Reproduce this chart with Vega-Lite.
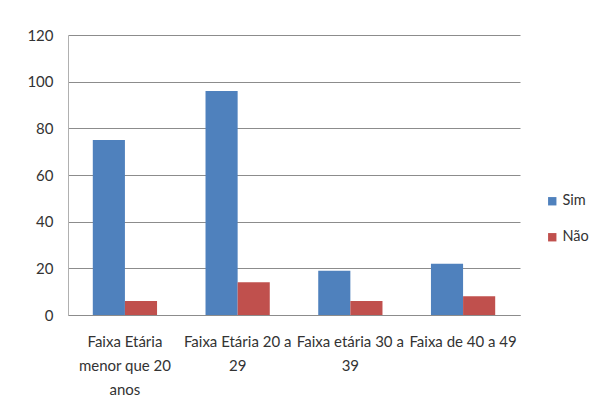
{
  "$schema": "https://vega.github.io/schema/vega-lite/v6.json",
  "width": 452,
  "height": 280,
  "autosize": {"type": "none"},
  "padding": {"left": 68, "top": 35, "right": 71, "bottom": 98},
  "background": "#ffffff",
  "data": {
    "values": [
      {"faixa": "Faixa Etária|menor que 20|anos", "resposta": "Sim", "valor": 75},
      {"faixa": "Faixa Etária|menor que 20|anos", "resposta": "Não", "valor": 6},
      {"faixa": "Faixa Etária 20 a|29", "resposta": "Sim", "valor": 96},
      {"faixa": "Faixa Etária 20 a|29", "resposta": "Não", "valor": 14},
      {"faixa": "Faixa etária 30 a|39", "resposta": "Sim", "valor": 19},
      {"faixa": "Faixa etária 30 a|39", "resposta": "Não", "valor": 6},
      {"faixa": "Faixa de 40 a 49", "resposta": "Sim", "valor": 22},
      {"faixa": "Faixa de 40 a 49", "resposta": "Não", "valor": 8}
    ]
  },
  "mark": {"type": "bar"},
  "encoding": {
    "x": {
      "field": "faixa",
      "type": "nominal",
      "sort": null,
      "scale": {"paddingInner": 0.43, "paddingOuter": 0.22},
      "axis": {
        "title": null,
        "labelAngle": 0,
        "labelExpr": "split(datum.label, '|')",
        "labelFont": "Lato",
        "labelFontSize": 15,
        "labelColor": "#333333",
        "labelLineHeight": 24,
        "labelPadding": 19,
        "labelLimit": 200,
        "labelOverlap": false,
        "ticks": false,
        "domainColor": "#8c8c8c",
        "domainWidth": 1
      }
    },
    "xOffset": {"field": "resposta", "type": "nominal", "sort": ["Sim", "Não"]},
    "y": {
      "field": "valor",
      "type": "quantitative",
      "scale": {"domain": [0, 120]},
      "axis": {
        "title": null,
        "values": [0, 20, 40, 60, 80, 100, 120],
        "labelFont": "Lato",
        "labelFontSize": 15,
        "labelColor": "#333333",
        "labelPadding": 15,
        "ticks": false,
        "grid": true,
        "gridColor": "#8c8c8c",
        "gridWidth": 1,
        "domain": true,
        "domainColor": "#b0b0b0"
      }
    },
    "color": {
      "field": "resposta",
      "type": "nominal",
      "sort": ["Sim", "Não"],
      "scale": {"domain": ["Sim", "Não"], "range": ["#4f81bd", "#c0504d"]},
      "legend": {
        "title": null,
        "orient": "none",
        "legendX": 477,
        "legendY": 159,
        "symbolType": "square",
        "symbolSize": 70,
        "symbolStrokeWidth": 0,
        "labelFont": "Lato",
        "labelFontSize": 14.5,
        "labelColor": "#333333",
        "labelOffset": 3,
        "rowPadding": 21
      }
    }
  },
  "config": {
    "view": {"stroke": null}
  }
}
